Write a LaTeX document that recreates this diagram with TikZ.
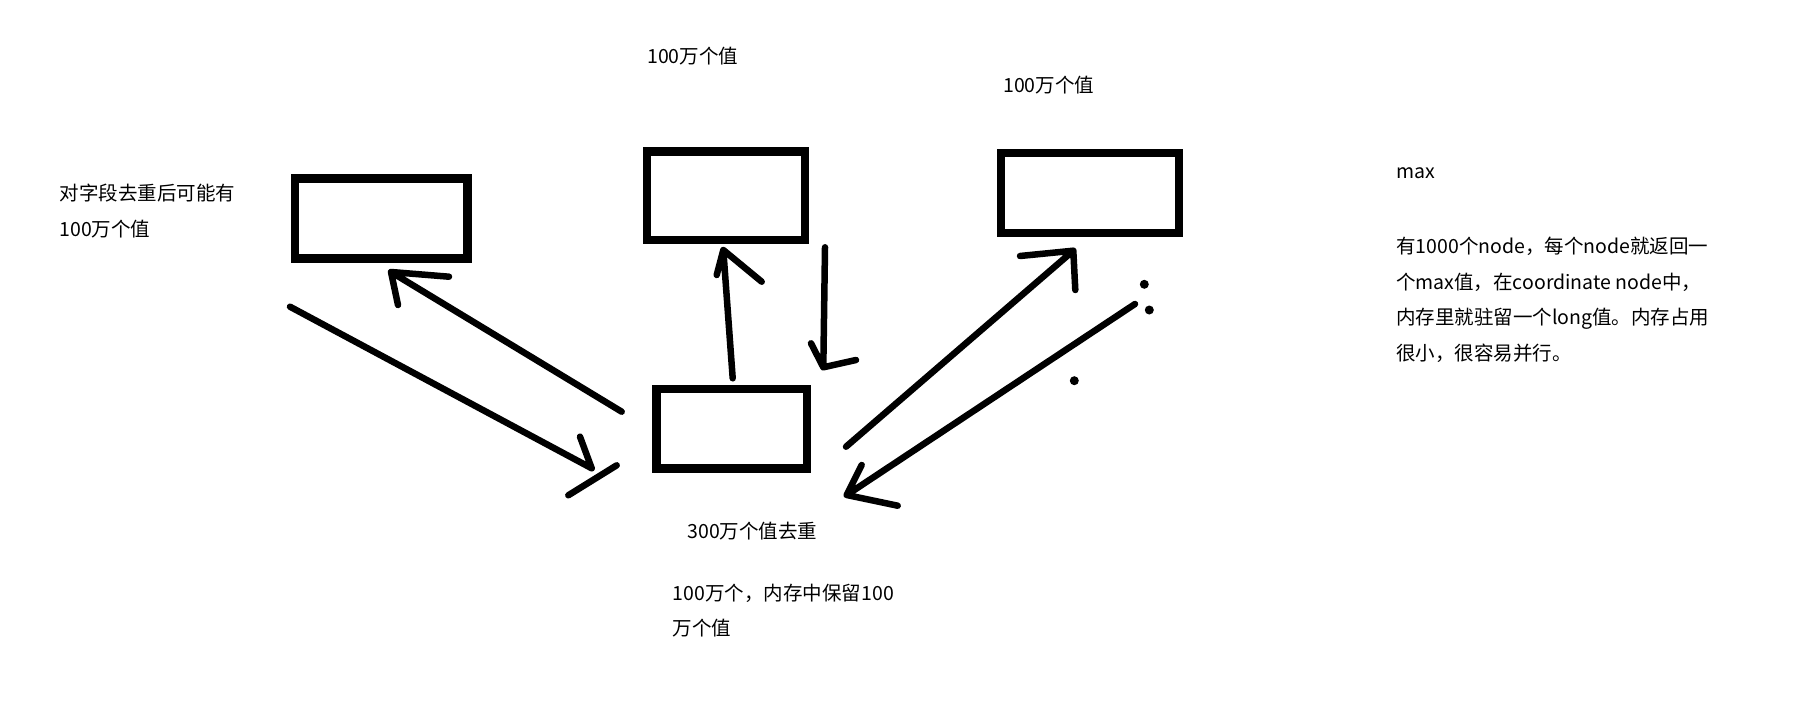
\documentclass[tikz,border=0pt]{standalone}
\usepackage{fontspec}
\setmainfont{Noto Sans CJK SC}

\tikzset{
	caja/.style={rectangle, draw, line width=8.5pt, inner sep=0pt},
	trazo/.style={line width=6.5pt, line cap=round, line join=round},
	txt/.style={anchor=west, inner sep=0pt, align=left, font=\fontsize{19.5}{35.5}\selectfont}
}

\begin{document}
\begin{tikzpicture}[x=1pt, y=-1pt]
		
		\useasboundingbox (0,0) rectangle (1820,717);
		
		% Cajas
		\node[caja, minimum width=172.5pt, minimum height=80pt] (S1) at (381.25,218.5) {};
		\node[caja, minimum width=158pt, minimum height=88.5pt] (S2) at (726,195.75) {};
		\node[caja, minimum width=178pt, minimum height=80pt] (S3) at (1090,193) {};
		\node[caja, minimum width=150.5pt, minimum height=79.5pt] (C) at (731.75,428.75) {};
		
		% Textos
		\node[txt] (t1) at (59.3,210.8) {对字段去重后可能有\\100万个值};
		\node[txt] (t2) at (647,56) {100万个值};
		\node[txt] (t3) at (1003,85) {100万个值};
		\node[txt] (t4) at (687.3,530.7) {300万个值去重};
		\node[txt] (t5) at (672.7,610.8) {100万个，内存中保留100\\万个值};
		\node[txt] (t6) at (1396,173) {max};
		\node[txt] (t7) at (1396,300) {有1000个node，每个node就返回一\\个max值，在coordinate node中，\\内存里就驻留一个long值。内存占用\\很小，很容易并行。};
		
		% Extremos de las flechas
		\coordinate (a1) at (621.7,411.7);  \coordinate (b1) at (391,272);
		\coordinate (a2) at (290,306.7);    \coordinate (b2) at (591.7,468.3);
		\coordinate (a3) at (732.7,378.3);  \coordinate (b3) at (723.3,250);
		\coordinate (a4) at (825,247.3);    \coordinate (b4) at (823.3,367.3);
		\coordinate (a5) at (846,446.7);    \coordinate (b5) at (1073.3,250.7);
		\coordinate (a6) at (1135,304);     \coordinate (b6) at (846.7,495);
		
		% Flechas entre C y S1
		\draw[trazo] (a1) -- (b1) -- ++(58,4.7) (b1) -- ++(7,33);
		\draw[trazo] (a2) -- (b2) -- ++(-11.7,-31.6) (b2) ++(25,-3) -- ++(-48.4,30);
		
		% Flechas entre C y S2
		\draw[trazo] (a3) -- (b3) -- ++(-6.6,25) (b3) -- ++(38.4,31.7);
		\draw[trazo] (a4) -- (b4) -- ++(-12.3,-24) (b4) -- ++(32.7,-7.3);
		
		% Flechas entre C y S3
		\draw[trazo] (a5) -- (b5) -- ++(-53.3,5.3) (b5) -- ++(2,39.3);
		\draw[trazo] (a6) -- (b6) -- ++(15,-30) (b6) -- ++(51,10.7);
		
		% Puntos
		\fill (1144.3,284.3) circle [radius=4.5];
		\fill (1149.3,310) circle [radius=4.5];
		\fill (1074.3,380.7) circle [radius=4.5];
		
	\end{tikzpicture}
\end{document}
